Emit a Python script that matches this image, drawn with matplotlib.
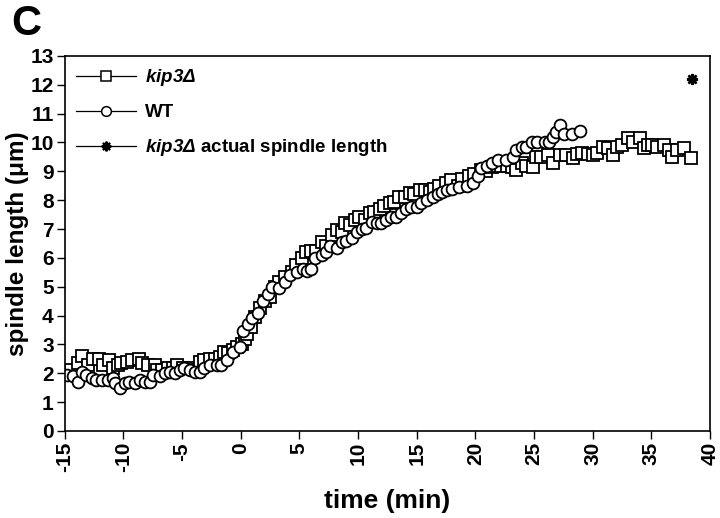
import matplotlib.pyplot as plt
from matplotlib.lines import Line2D

plt.rcParams['font.family'] = ['Liberation Sans', 'DejaVu Sans']
plt.rcParams['font.weight'] = 'bold'
plt.rcParams['mathtext.fontset'] = 'custom'
plt.rcParams['mathtext.it'] = 'Liberation Sans:italic:bold'
plt.rcParams['mathtext.rm'] = 'Liberation Sans:italic:bold'

# kip3 delta spindle length (time in min, length in um)
kip3_t = [-14.8, -14.5, -13.9, -13.5, -13.0, -12.6, -12.1, -11.75, -11.2, -10.9,
          -10.5, -10.2, -9.7, -9.3, -8.7, -8.4, -7.9, -7.3, -7.1, -6.7,
          -6.2, -5.8, -5.4, -4.95, -4.35, -3.9, -3.5, -3.1, -2.65, -2.2,
          -1.8, -1.4, -1.05, -0.7, -0.35, 0.1, 0.35, 0.5, 0.9, 1.2,
          1.6, 2.05, 2.5, 2.9, 3.3, 3.75, 4.35, 4.75, 5.2, 5.6,
          6.0, 6.45, 6.9, 7.3, 7.75, 8.2, 8.6, 8.85, 9.3, 9.7,
          10.1, 10.6, 11.0, 11.4, 11.85, 12.25, 12.7, 13.1, 13.5, 14.0,
          14.4, 14.8, 15.25, 15.7, 16.1, 16.5, 16.9, 17.5, 17.95, 18.5,
          18.9, 19.5, 19.9, 20.5, 20.9, 21.4, 21.8, 22.2, 22.7, 23.1,
          23.5, 23.95, 24.35, 24.9, 25.2, 25.6, 26.2, 26.6, 27.2, 27.7,
          28.3, 28.7, 29.1, 29.6, 30.0, 30.4, 30.85, 31.3, 31.7, 32.1,
          32.5, 33.0, 33.4, 34.0, 34.4, 34.7, 35.1, 35.5, 36.1, 36.5,
          36.8, 37.2, 37.8, 38.4]
kip3_len = [2.0, 2.1, 2.35, 2.6, 2.3, 2.5, 2.5, 2.3, 2.45, 2.2,
            2.3, 2.35, 2.4, 2.45, 2.5, 2.35, 2.3, 2.3, 2.1, 2.1,
            2.2, 2.2, 2.3, 2.2, 2.2, 2.1, 2.4, 2.45, 2.5, 2.5,
            2.55, 2.75, 2.7, 2.8, 2.9, 3.0, 3.2, 3.35, 3.6, 3.95,
            4.25, 4.5, 4.65, 5.0, 5.15, 5.35, 5.5, 5.75, 6.0, 6.2,
            6.25, 6.25, 6.55, 6.4, 6.8, 6.95, 6.9, 7.2, 7.15, 7.3,
            7.4, 7.3, 7.55, 7.6, 7.7, 7.8, 7.9, 7.95, 8.1, 8.1,
            8.25, 8.2, 8.35, 8.35, 8.3, 8.4, 8.5, 8.6, 8.7, 8.5,
            8.75, 8.85, 8.9, 9.05, 9.0, 9.15, 9.2, 9.2, 9.2, 9.15,
            9.05, 9.3, 9.2, 9.15, 9.5, 9.5, 9.55, 9.3, 9.55, 9.55,
            9.45, 9.6, 9.65, 9.6, 9.55, 9.65, 9.85, 9.8, 9.55, 9.85,
            9.9, 10.15, 10.0, 10.15, 9.8, 9.9, 9.9, 9.85, 9.9, 9.75,
            9.5, 9.75, 9.8, 9.45]

# wild type
wt_t = [-14.85, -14.3, -13.9, -13.55, -13.15, -12.7, -12.3, -11.85, -11.3, -10.9,
        -10.7, -10.3, -9.9, -9.5, -9.05, -8.6, -8.2, -7.75, -7.5, -6.9,
        -6.5, -6.05, -5.6, -5.2, -4.8, -4.35, -3.9, -3.5, -3.1, -2.65,
        -2.05, -1.65, -1.2, -0.7, -0.1, 0.2, 0.6, 1.0, 1.45, 1.9,
        2.3, 2.7, 3.3, 3.75, 4.2, 4.8, 5.3, 5.65, 6.0, 6.3,
        6.9, 7.25, 7.6, 8.2, 8.6, 9.0, 9.45, 9.9, 10.3, 10.7,
        11.15, 11.6, 12.0, 12.4, 12.85, 13.25, 13.7, 14.1, 14.55, 15.0,
        15.4, 15.9, 16.35, 16.8, 17.2, 17.6, 18.0, 18.6, 19.25, 19.8,
        20.2, 20.5, 21.0, 21.4, 21.95, 22.6, 23.2, 23.5, 23.95, 24.35,
        24.8, 25.3, 25.9, 26.3, 26.6, 26.9, 27.2, 27.6, 28.2, 28.9]
wt_len = [1.95, 1.9, 1.7, 2.05, 1.95, 1.85, 1.75, 1.75, 1.75, 1.85,
          1.65, 1.5, 1.65, 1.7, 1.65, 1.75, 1.7, 1.7, 1.95, 1.9,
          2.0, 2.05, 2.0, 2.1, 2.2, 2.1, 2.05, 2.05, 2.2, 2.3,
          2.3, 2.3, 2.45, 2.75, 2.9, 3.45, 3.7, 3.9, 4.1, 4.5,
          4.75, 5.0, 4.95, 5.15, 5.4, 5.5, 5.6, 5.55, 5.6, 6.0,
          6.1, 6.2, 6.4, 6.35, 6.55, 6.6, 6.7, 6.9, 7.0, 7.05,
          7.25, 7.2, 7.2, 7.3, 7.4, 7.4, 7.55, 7.7, 7.75, 7.75,
          7.9, 8.0, 8.1, 8.2, 8.3, 8.35, 8.4, 8.45, 8.5, 8.6,
          8.85, 9.1, 9.2, 9.3, 9.4, 9.4, 9.5, 9.75, 9.85, 9.85,
          10.0, 10.0, 10.0, 10.0, 10.2, 10.35, 10.6, 10.3, 10.3, 10.4]

# actual spindle length, single measurement
actual_t = [38.5]
actual_len = [12.2]

labels = [r'$\it{kip3Δ}$', 'WT', r'$\it{kip3Δ}$ actual spindle length']
xticks = list(range(-15, 41, 5))
yticks = list(range(0, 14))

fig = plt.figure(figsize=(7.2, 5.18), dpi=100)
ax = fig.add_axes([0.090, 0.168, 0.896, 0.724])

ax.plot(kip3_t, kip3_len, ls='none', marker='s', ms=9, mfc='white',
        mec='black', mew=1.3)
ax.plot(wt_t, wt_len, ls='none', marker='o', ms=8.5, mfc='white',
        mec='black', mew=1.3)
ax.plot(actual_t, actual_len, ls='none', marker=(8, 2, 0), ms=8,
        color='black', mew=1.8)

ax.set_xlim(-15, 40)
ax.set_ylim(0, 13)
ax.set_xticks(xticks)
ax.set_yticks(yticks)
ax.set_xticklabels([str(v) for v in xticks], rotation=90)
ax.tick_params(direction='out', length=6, width=1, labelsize=15, pad=2)
for s in ax.spines.values():
    s.set_linewidth(1.2)

ax.set_xlabel('time (min)', fontsize=19, fontweight='bold', labelpad=12)
ax.set_ylabel('spindle length (μm)', fontsize=17.5, fontweight='bold', labelpad=1)

# legend with lines through the markers
handles = [
    Line2D([], [], color='black', lw=0.9, marker='s', ms=7, mfc='white', mew=1.1),
    Line2D([], [], color='black', lw=0.9, marker='o', ms=7, mfc='white', mew=1.1),
    Line2D([], [], color='black', lw=0.9, marker=(8, 2, 0), ms=7, mew=1.5),
]
ax.legend(handles, labels, loc='upper left', frameon=False,
          handlelength=3.2, handletextpad=0.5, labelspacing=0.85,
          borderaxespad=0.2, prop={'weight': 'bold', 'size': 13.5})

fig.text(0.015, 0.933, 'C', fontsize=30, fontweight='bold')

fig.savefig('out.png', dpi=100)
